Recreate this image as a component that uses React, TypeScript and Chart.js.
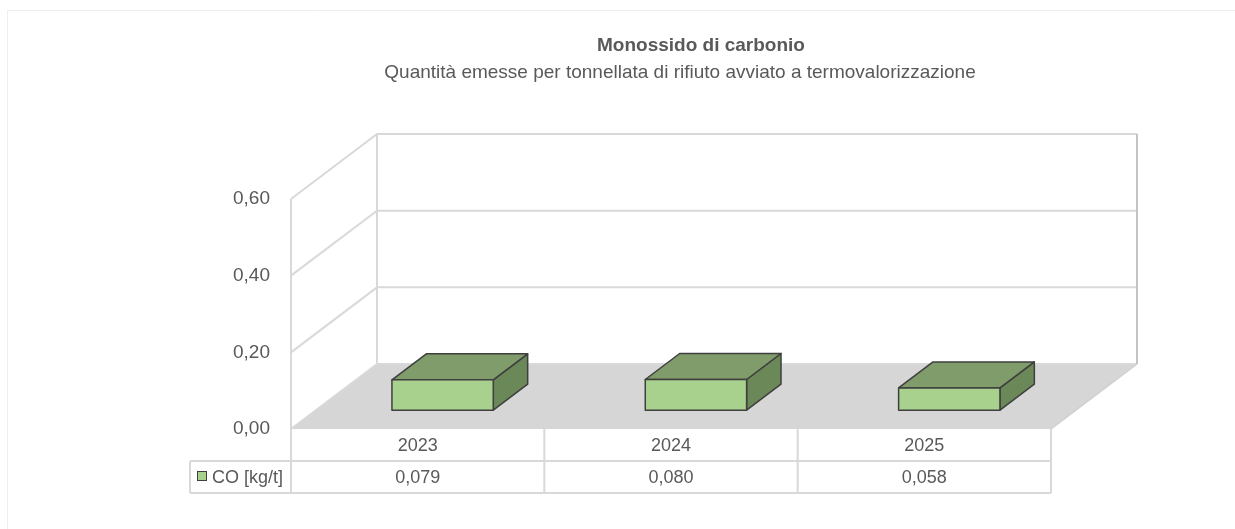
import React, { useEffect, useRef } from 'react';
import { Chart, registerables } from 'chart.js';

Chart.register(...registerables);

const categories = ['2023', '2024', '2025'];
const seriesLabel = 'CO [kg/t]';
const coValues = [0.079, 0.08, 0.058];
const yTickValues = [0, 0.2, 0.4, 0.6];
const titleText = 'Monossido di carbonio';
const subtitleText = 'Quantità emesse per tonnellata di rifiuto avviato a termovalorizzazione';

const FONT = '"Liberation Sans", Arial, sans-serif';
const TEXT = '#595959';
const DX = 86;
const DY = -65;
const BAR_FRONT = 0.29;
const BAR_BACK = 0.69;
const ROW_H = 32;
const LEGEND_LEFT = 190;

const fmt = (v: number, d: number) => v.toFixed(d).replace('.', ',');

const excel3d = {
  id: 'excel3d',
  beforeDraw(chart: any) {
    const { ctx, width, height } = chart;
    ctx.save();
    ctx.fillStyle = '#ffffff';
    ctx.fillRect(0, 0, width, height);
    ctx.strokeStyle = '#eeeeee';
    ctx.lineWidth = 1;
    ctx.beginPath();
    ctx.moveTo(7.5, height + 5);
    ctx.lineTo(7.5, 10.5);
    ctx.lineTo(width + 5, 10.5);
    ctx.stroke();
    // titles
    ctx.fillStyle = TEXT;
    ctx.textAlign = 'center';
    ctx.textBaseline = 'middle';
    ctx.font = `bold 19px ${FONT}`;
    ctx.fillText(titleText, 701, 46);
    ctx.font = `19px ${FONT}`;
    ctx.fillText(subtitleText, 680, 73);
    ctx.restore();
  },
  beforeDatasetsDraw(chart: any) {
    const { ctx, chartArea, scales } = chart;
    const { left, right, top, bottom } = chartArea;
    const y = scales.y;
    ctx.save();
    // floor
    ctx.fillStyle = '#d6d6d6';
    ctx.beginPath();
    ctx.moveTo(left, bottom);
    ctx.lineTo(right, bottom);
    ctx.lineTo(right + DX, bottom + DY);
    ctx.lineTo(left + DX, bottom + DY);
    ctx.closePath();
    ctx.fill();
    // gridlines
    ctx.strokeStyle = '#d9d9d9';
    ctx.lineWidth = 2;
    yTickValues.forEach((v) => {
      const py = y.getPixelForValue(v);
      ctx.beginPath();
      ctx.moveTo(left, py);
      ctx.lineTo(left + DX, py + DY);
      ctx.lineTo(right + DX, py + DY);
      ctx.stroke();
    });
    // back-left vertical
    ctx.beginPath();
    ctx.moveTo(left + DX, top + DY);
    ctx.lineTo(left + DX, bottom + DY);
    ctx.stroke();
    // back-right vertical
    ctx.strokeStyle = '#c4c4c4';
    ctx.beginPath();
    ctx.moveTo(right + DX, top + DY);
    ctx.lineTo(right + DX, bottom + DY);
    ctx.stroke();
    // floor right diagonal
    ctx.strokeStyle = '#cfcfcf';
    ctx.lineWidth = 1.5;
    ctx.beginPath();
    ctx.moveTo(right, bottom);
    ctx.lineTo(right + DX, bottom + DY);
    ctx.stroke();
    ctx.restore();
  },
  afterDatasetsDraw(chart: any) {
    const { ctx } = chart;
    const meta = chart.getDatasetMeta(0);
    const fx = BAR_FRONT * DX;
    const fy = BAR_FRONT * DY;
    const bx = BAR_BACK * DX;
    const by = BAR_BACK * DY;
    ctx.save();
    ctx.lineWidth = 1.5;
    ctx.strokeStyle = '#3f3f3f';
    ctx.lineJoin = 'round';
    meta.data.forEach((el: any) => {
      const p = el.getProps(['x', 'y', 'base', 'width'], true);
      const x0 = p.x - p.width / 2;
      const x1 = p.x + p.width / 2;
      const yt = p.y;
      const yb = p.base;
      // side face
      ctx.fillStyle = '#6b8858';
      ctx.beginPath();
      ctx.moveTo(x1 + fx, yt + fy);
      ctx.lineTo(x1 + bx, yt + by);
      ctx.lineTo(x1 + bx, yb + by);
      ctx.lineTo(x1 + fx, yb + fy);
      ctx.closePath();
      ctx.fill();
      ctx.stroke();
      // top face
      ctx.fillStyle = '#7f9c6a';
      ctx.beginPath();
      ctx.moveTo(x0 + fx, yt + fy);
      ctx.lineTo(x1 + fx, yt + fy);
      ctx.lineTo(x1 + bx, yt + by);
      ctx.lineTo(x0 + bx, yt + by);
      ctx.closePath();
      ctx.fill();
      ctx.stroke();
      // front face
      ctx.fillStyle = '#a9d18e';
      ctx.beginPath();
      ctx.rect(x0 + fx, yt + fy, x1 - x0, yb - yt);
      ctx.fill();
      ctx.stroke();
    });
    ctx.restore();
  },
  afterDraw(chart: any) {
    const { ctx, chartArea, scales } = chart;
    const { left, right, top, bottom } = chartArea;
    const x = scales.x;
    const n = categories.length;
    const colW = (right - left) / n;
    const r1 = bottom + ROW_H;
    const r2 = bottom + ROW_H * 2;
    ctx.save();
    ctx.strokeStyle = '#d9d9d9';
    ctx.lineWidth = 2;
    // front-left vertical through the table
    ctx.beginPath();
    ctx.moveTo(left, top);
    ctx.lineTo(left, r2);
    ctx.stroke();
    ctx.beginPath();
    ctx.moveTo(LEGEND_LEFT, r1);
    ctx.lineTo(right, r1);
    ctx.moveTo(LEGEND_LEFT, r2);
    ctx.lineTo(right, r2);
    ctx.moveTo(LEGEND_LEFT, r1);
    ctx.lineTo(LEGEND_LEFT, r2);
    for (let i = 1; i <= n; i++) {
      const cx = left + colW * i;
      ctx.moveTo(cx, bottom);
      ctx.lineTo(cx, r2);
    }
    ctx.stroke();
    ctx.fillStyle = TEXT;
    ctx.font = `18px ${FONT}`;
    ctx.textAlign = 'center';
    ctx.textBaseline = 'middle';
    categories.forEach((c, i) => {
      const cx = x.getPixelForValue(i);
      ctx.fillText(c, cx, bottom + ROW_H / 2 + 1);
      ctx.fillText(fmt(coValues[i], 3), cx, r1 + ROW_H / 2 + 1);
    });
    // legend key
    ctx.fillStyle = '#a9d18e';
    ctx.strokeStyle = '#404040';
    ctx.lineWidth = 1;
    ctx.fillRect(197.5, r1 + 10.5, 9, 9);
    ctx.strokeRect(197.5, r1 + 10.5, 9, 9);
    ctx.fillStyle = TEXT;
    ctx.textAlign = 'left';
    ctx.fillText(seriesLabel, 212, r1 + ROW_H / 2 + 1);
    ctx.restore();
  },
};

export default function App() {
  const ref = useRef<HTMLCanvasElement>(null);
  useEffect(() => {
    if (!ref.current) return;
    const chart = new Chart(ref.current, {
      type: 'bar',
      data: {
        labels: categories,
        datasets: [
          {
            label: seriesLabel,
            data: coValues,
            backgroundColor: 'rgba(0,0,0,0)',
            borderWidth: 0,
            barPercentage: 0.4,
            categoryPercentage: 1,
          },
        ],
      },
      options: {
        responsive: false,
        animation: false,
        layout: { padding: { left: 0, right: 184, top: 199, bottom: 100 } },
        plugins: {
          legend: { display: false },
          title: { display: false },
          tooltip: { enabled: false },
        },
        scales: {
          x: { type: 'category', display: false, offset: true },
          y: {
            min: 0,
            max: 0.6,
            afterBuildTicks: (scale: any) => {
              scale.ticks = yTickValues.map((v) => ({ value: v }));
            },
            afterFit: (scale: any) => {
              scale.width = 291;
            },
            grid: { display: false, drawTicks: false },
            border: { display: false },
            ticks: {
              padding: 21,
              color: TEXT,
              font: { family: FONT, size: 19 },
              callback: (v: any) => fmt(Number(v), 2),
            },
          },
        },
      },
      plugins: [excel3d],
    });
    return () => chart.destroy();
  }, []);
  return (
    <div style={{ position: 'fixed', left: 0, top: 0, width: 1235, height: 529, background: '#fff' }}>
      <canvas ref={ref} width={1235} height={529} />
    </div>
  );
}
